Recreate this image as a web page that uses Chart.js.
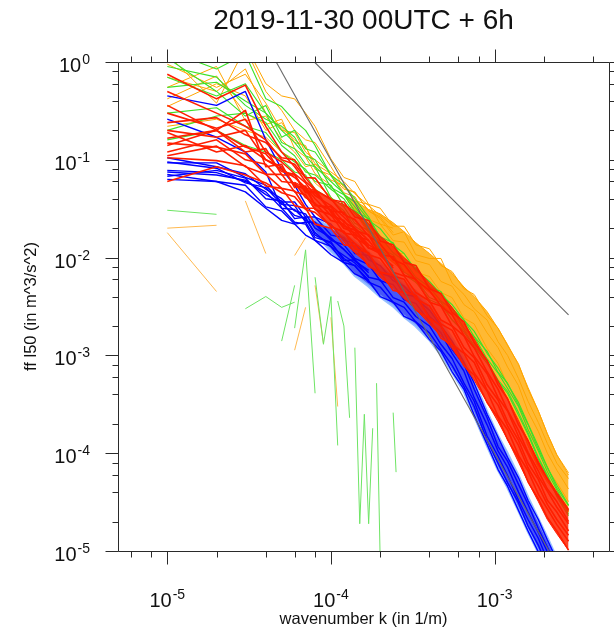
<!DOCTYPE html>
<html>
<head>
<meta charset="utf-8">
<title>ff l50 spectra</title>
<script src="https://cdn.jsdelivr.net/npm/chart.js@4.4.1/dist/chart.umd.min.js"></script>
<style>
  html, body { margin: 0; padding: 0; background: #ffffff; }
  canvas { display: block; }
</style>
</head>
<body>
<canvas id="spectra" width="614" height="630"></canvas>
<script>
// Wavenumbers k (1/m) at which the spectra are sampled
const wavenumber = [1e-5, 2e-5, 3e-5, 4e-5, 5e-5, 6e-5, 7e-5, 8e-5, 1e-4, 1.2e-4, 1.4e-4, 1.7e-4, 2e-4, 2.4e-4, 2.8e-4,
  3.3e-4, 4e-4, 4.7e-4, 5.5e-4, 6.5e-4, 7.5e-4, 9e-4, 1.05e-3, 1.2e-3, 1.4e-3, 1.6e-3, 1.85e-3, 2.1e-3, 2.4e-3, 2.83e-3];

// Blue members
const blue1 = [9.3e-2, 9.3e-2, 6.6e-2, 5.5e-2, 3.7e-2, 3.7e-2, 2.6e-2, 2.6e-2, 1.7e-2, 1.6e-2, 1.1e-2, 1.05e-2, 6.9e-3, 6.3e-3, 4.2e-3, 4.0e-3, 2.5e-3, 2.0e-3, 1.15e-3, 8.1e-4, 4.5e-4, 2.3e-4, 1.17e-4, 8.3e-5, 4.8e-5, 3.0e-5, 1.7e-5, 1.1e-5, 6.9e-6, 4.1e-6];
const blue2 = [7.1e-2, 6.0e-2, 5.5e-2, 3.3e-2, 3.0e-2, 2.2e-2, 2.3e-2, 1.6e-2, 1.45e-2, 9.3e-3, 9.5e-3, 6.3e-3, 5.9e-3, 3.9e-3, 3.5e-3, 2.5e-3, 2.0e-3, 1.3e-3, 9.3e-4, 5.2e-4, 3.4e-4, 1.5e-4, 9.3e-5, 5.9e-5, 3.3e-5, 2.1e-5, 1.35e-5, 8.1e-6, 5.0e-6, 3.0e-6];
const blue3 = [0.45, 0.36, 0.50, 0.16, 0.08, 0.055, 3.5e-2, 2.6e-2, 2.2e-2, 1.5e-2, 1.4e-2, 9.5e-3, 8.3e-3, 5.8e-3, 5.1e-3, 3.8e-3, 2.9e-3, 2.0e-3, 1.4e-3, 8.5e-4, 5.2e-4, 2.5e-4, 1.45e-4, 9.1e-5, 5.6e-5, 3.3e-5, 2.1e-5, 1.3e-5, 8.1e-6, 4.7e-6];
const blue4 = [0.26, 0.17, 0.12, 0.075, 3.2e-2, 2.3e-2, 2.2e-2, 1.5e-2, 1.3e-2, 8.9e-3, 8.3e-3, 5.6e-3, 5.0e-3, 3.5e-3, 3.1e-3, 2.2e-3, 1.7e-3, 1.15e-3, 7.9e-4, 4.8e-4, 3.0e-4, 1.35e-4, 7.9e-5, 5.0e-5, 3.1e-5, 1.8e-5, 1.15e-5, 6.9e-6, 4.5e-6, 2.6e-6];
const blue5 = [0.078, 0.074, 0.060, 0.047, 0.032, 0.031, 0.024, 0.022, 0.015, 0.0135, 0.0098, 0.0085, 0.0058, 0.0053, 0.0037, 0.0034, 0.0022, 0.0017, 1.05e-3, 6.9e-4, 3.7e-4, 1.95e-4, 1.05e-4, 7.2e-5, 4.0e-5, 2.5e-5, 1.55e-5, 9.8e-6, 6.0e-6, 3.5e-6];
const blue6 = [0.063, 0.060, 0.047, 0.032, 0.024, 0.022, 0.017, 0.015, 0.0107, 0.0089, 0.0068, 0.0058, 0.0040, 0.0035, 0.0025, 0.0022, 1.45e-3, 1.1e-3, 6.8e-4, 4.5e-4, 2.45e-4, 1.23e-4, 6.8e-5, 4.6e-5, 2.6e-5, 1.6e-5, 9.8e-6, 6.3e-6, 3.8e-6, 2.2e-6];
const blueLow1 = [0.105, 0.085, 0.072, 0.05, 0.04, 0.03, 0.028, 0.02, 0.016, 0.012, 0.0095, 0.007];
const blueLow2 = [0.075, 0.07, 0.062, 0.044, 0.036, 0.027, 0.025, 0.018, 0.013, 0.0105, 0.0088, 0.0064];
const blueLow3 = [0.095, 0.082, 0.058, 0.052, 0.035, 0.034, 0.023, 0.023, 0.0155, 0.0122, 0.0092, 0.0074];
const blueLow4 = [0.068, 0.078, 0.065, 0.04, 0.038, 0.025, 0.026, 0.017, 0.014, 0.0098, 0.0082, 0.0059];
const blueUpper = [0.025, 0.0245, 0.0204, 1.74e-2, 1.45e-2, 1.12e-2, 8.7e-3, 6.9e-3, 5.5e-3, 4.5e-3, 3.2e-3, 2.2e-3, 1.48e-3, 9.3e-4, 5.4e-4, 2.6e-4, 1.48e-4, 9.8e-5, 5.8e-5, 3.5e-5, 2.1e-5, 1.35e-5, 8.3e-6, 4.9e-6];
const blueLower = [0.025, 0.0178, 0.0117, 8.9e-3, 6.6e-3, 5.1e-3, 4.0e-3, 3.2e-3, 2.5e-3, 2.0e-3, 1.45e-3, 1.02e-3, 6.8e-4, 4.3e-4, 2.45e-4, 1.2e-4, 6.8e-5, 4.5e-5, 2.6e-5, 1.6e-5, 9.8e-6, 6.2e-6, 3.8e-6, 2.2e-6];

// Red members
const red1 = [0.24, 0.27, 0.18, 0.15, 0.105, 0.10, 0.066, 0.065, 0.039, 0.037, 0.026, 0.024, 0.0148, 0.0135, 0.0089, 0.0083, 0.0048, 0.0043, 0.00275, 0.0022, 0.00135, 8.9e-4, 5.0e-4, 3.6e-4, 1.95e-4, 1.35e-4, 7.8e-5, 5.5e-5, 3.8e-5, 2.6e-5];
const red2 = [0.105, 0.098, 0.087, 0.054, 0.051, 0.034, 0.032, 0.022, 0.020, 0.0135, 0.0132, 0.0081, 0.0071, 0.0046, 0.0044, 0.0029, 0.0024, 0.0015, 0.0013, 7.8e-4, 6.3e-4, 3.3e-4, 2.3e-4, 1.38e-4, 8.9e-5, 5.1e-5, 3.4e-5, 2.2e-5, 1.6e-5, 1.02e-5];
const red3 = [0.166, 0.20, 0.135, 0.115, 0.076, 0.071, 0.047, 0.048, 0.030, 0.029, 0.019, 0.017, 0.0107, 0.0102, 0.0066, 0.0060, 0.0035, 0.0032, 0.0020, 0.00158, 9.8e-4, 6.5e-4, 3.7e-4, 2.7e-4, 1.48e-4, 9.8e-5, 5.8e-5, 4.1e-5, 2.8e-5, 1.9e-5];
const red4 = [0.148, 0.135, 0.115, 0.071, 0.071, 0.047, 0.044, 0.031, 0.0275, 0.0178, 0.017, 0.0107, 0.0098, 0.0065, 0.0060, 0.0038, 0.0032, 0.0021, 0.0018, 0.00107, 8.5e-4, 4.4e-4, 3.1e-4, 1.9e-4, 1.2e-4, 7.1e-5, 4.6e-5, 3.0e-5, 2.1e-5, 1.45e-5];
const red5 = [0.75, 0.42, 0.58, 0.22, 0.12, 0.085, 0.06, 0.049, 0.040, 0.0275, 0.0245, 0.0166, 0.0138, 0.0095, 0.0085, 0.0059, 0.0046, 0.0032, 0.0026, 0.0016, 0.0012, 6.8e-4, 4.5e-4, 2.75e-4, 1.7e-4, 1.02e-4, 6.6e-5, 4.3e-5, 3.2e-5, 2.0e-5];
const red6 = [0.50, 0.30, 0.22, 0.16, 0.10, 0.09, 0.065, 0.05, 0.029, 0.020, 0.0195, 0.0126, 0.011, 0.0071, 0.0065, 0.0044, 0.0036, 0.0023, 0.0020, 0.0012, 9.5e-4, 5.0e-4, 3.5e-4, 2.1e-4, 1.35e-4, 7.9e-5, 5.4e-5, 3.3e-5, 2.5e-5, 1.6e-5];
const red7 = [0.11, 0.138, 0.085, 0.071, 0.051, 0.048, 0.032, 0.032, 0.0204, 0.0186, 0.0123, 0.0112, 0.0071, 0.0066, 0.0045, 0.0041, 0.0024, 0.0020, 0.0013, 0.00105, 6.6e-4, 4.3e-4, 2.4e-4, 1.74e-4, 9.5e-5, 6.6e-5, 3.8e-5, 2.7e-5, 1.86e-5, 1.26e-5];
const redLow1 = [0.30, 0.21, 0.26, 0.12, 0.095, 0.072, 0.058, 0.043, 0.034, 0.026, 0.020, 0.015];
const redLow2 = [0.12, 0.16, 0.10, 0.09, 0.06, 0.058, 0.041, 0.036, 0.024, 0.022, 0.016, 0.013];
const redLow3 = [0.19, 0.12, 0.14, 0.10, 0.085, 0.055, 0.050, 0.035, 0.031, 0.020, 0.018, 0.0125];
const redLow4 = [0.06, 0.085, 0.07, 0.058, 0.046, 0.042, 0.031, 0.029, 0.021, 0.018, 0.014, 0.011];
const redLow5 = [0.2, 0.17, 0.2, 0.1, 0.08, 0.066, 0.052, 0.04, 0.027, 0.024, 0.017, 0.015, 0.0105, 0.0082];
const redLow6 = [0.14, 0.2, 0.12, 0.13, 0.07, 0.07, 0.046, 0.046, 0.03, 0.021, 0.019, 0.0135, 0.0115, 0.0078];
const redLow7 = [0.36, 0.2, 0.32, 0.085, 0.09, 0.052, 0.054, 0.034, 0.033, 0.023, 0.02, 0.0125, 0.012, 0.0072];
const redUpper = [0.059, 0.052, 0.049, 0.039, 0.035, 0.0295, 0.0224, 0.0166, 0.0129, 0.010, 0.0078, 0.0055, 0.0042, 0.0031, 0.0021, 0.00148, 8.7e-4, 5.5e-4, 3.6e-4, 2.14e-4, 1.35e-4, 8.3e-5, 5.6e-5, 4.0e-5, 2.7e-5];
const redLower = [0.059, 0.042, 0.031, 0.0214, 0.0145, 0.0112, 0.0085, 0.0063, 0.0049, 0.0038, 0.00295, 0.0021, 0.00158, 0.00117, 7.9e-4, 5.6e-4, 3.3e-4, 2.1e-4, 1.38e-4, 8.1e-5, 5.1e-5, 3.2e-5, 2.1e-5, 1.5e-5, 1.02e-5];

// Green members
const green1 = [1.3, 0.85, 1.2, 0.42, 0.35, 0.25, 0.2, 0.14, 0.069, 0.044, 0.037, 0.024, 0.0198, 0.0135, 0.011, 0.0074, 0.0057, 0.0042, 0.0033, 0.0023, 0.00177, 0.00105, 7.4e-4, 5.1e-4, 3.3e-4, 2.0e-4, 1.18e-4, 7.2e-5, 4.7e-5, 2.95e-5];
const green2 = [0.55, 0.62, 0.40, 0.30, 0.15, 0.13, 0.09, 0.085, 0.041, 0.033, 0.0224, 0.0188, 0.0123, 0.0107, 0.0071, 0.006, 0.0039, 0.0035, 0.0023, 0.0018, 0.00127, 8.7e-4, 5.6e-4, 4.3e-4, 2.6e-4, 1.62e-4, 9.1e-5, 6.0e-5, 3.7e-5, 2.4e-5];
const green3 = [0.30, 0.34, 0.22, 0.19, 0.12, 0.095, 0.08, 0.06, 0.055, 0.034, 0.030, 0.0188, 0.0163, 0.0112, 0.0093, 0.0063, 0.005, 0.0036, 0.003, 0.0019, 0.00156, 9.2e-4, 6.6e-4, 4.6e-4, 3.0e-4, 1.75e-4, 1.05e-4, 6.5e-5, 4.2e-5, 2.6e-5];
const green4 = [0.16, 0.20, 0.14, 0.12, 0.10, 0.075, 0.07, 0.05, 0.039, 0.030, 0.0209, 0.0169, 0.0118, 0.01, 0.0067, 0.0056, 0.0037, 0.0033, 0.0023, 0.00173, 0.00123, 8.3e-4, 5.4e-4, 4.1e-4, 2.45e-4, 1.55e-4, 8.7e-5, 5.8e-5, 3.6e-5, 2.3e-5];
const green5 = [0.9, 0.7, 0.36, 0.26, 0.22, 0.17, 0.11, 0.10, 0.052, 0.044, 0.030, 0.025, 0.0163, 0.0142, 0.0091, 0.0079, 0.005, 0.0045, 0.003, 0.0023, 0.00156, 1.1e-3, 6.7e-4, 5.2e-4, 3.1e-4, 1.97e-4, 1.1e-4, 7.2e-5, 4.4e-5, 2.9e-5];
const greenLow1 = [0.7, 0.45, 0.6, 0.3, 0.2, 0.15, 0.11, 0.085, 0.06, 0.045, 0.033, 0.022, 0.015];
const greenLow2 = [0.2, 0.28, 0.3, 0.24, 0.14, 0.11, 0.075, 0.07, 0.05, 0.04, 0.028, 0.02, 0.014];
const greenLow3 = [1.1, 0.5, 0.28, 0.36, 0.17, 0.2, 0.13, 0.12, 0.07, 0.055, 0.04, 0.026, 0.016];

// Orange members
const orange1 = [1.6, 1.1, 1.5, 0.6, 0.45, 0.42, 0.3, 0.22, 0.102, 0.066, 0.060, 0.035, 0.032, 0.021, 0.0209, 0.0135, 0.0123, 0.0083, 0.0072, 0.0048, 0.0042, 0.00255, 0.0019, 0.00126, 8.2e-4, 4.5e-4, 2.7e-4, 1.58e-4, 9.6e-5, 6.3e-5];
const orange2 = [0.7, 0.5, 0.85, 0.3, 0.21, 0.16, 0.135, 0.091, 0.072, 0.046, 0.042, 0.0246, 0.022, 0.0149, 0.0144, 0.0093, 0.0085, 0.0057, 0.0051, 0.0033, 0.0028, 0.0017, 0.0012, 7.6e-4, 4.9e-4, 2.66e-4, 1.67e-4, 1.0e-4, 6.7e-5, 4.3e-5];
const orange3 = [0.22, 0.26, 0.2, 0.17, 0.12, 0.10, 0.079, 0.058, 0.042, 0.028, 0.024, 0.0145, 0.0126, 0.0089, 0.0081, 0.0055, 0.0049, 0.0035, 0.0030, 0.0019, 0.00156, 8.9e-4, 5.6e-4, 3.6e-4, 2.2e-4, 1.2e-4, 7.4e-5, 5.1e-5, 3.8e-5, 2.5e-5];
const orange4 = [0.42, 0.72, 0.3, 0.23, 0.26, 0.13, 0.107, 0.072, 0.055, 0.034, 0.032, 0.0188, 0.0166, 0.0112, 0.011, 0.0071, 0.0064, 0.0044, 0.0039, 0.0024, 0.0021, 0.00118, 8.3e-4, 5.0e-4, 3.3e-4, 1.75e-4, 1.12e-4, 6.9e-5, 5.0e-5, 3.2e-5];
const orange5 = [1.2, 0.38, 1.4, 0.5, 0.32, 0.2, 0.16, 0.15, 0.085, 0.052, 0.046, 0.030, 0.025, 0.017, 0.0184, 0.0107, 0.0098, 0.0098, 0.0055, 0.0042, 0.003, 0.0023, 0.00138, 1.0e-3, 5.8e-4, 3.4e-4, 2.06e-4, 1.26e-4, 7.9e-5, 5.5e-5];
const orangeLow1 = [0.95, 0.55, 0.75, 0.38, 0.2, 0.19, 0.12, 0.1, 0.075, 0.06, 0.045, 0.034, 0.027, 0.021];
const orangeLow2 = [0.35, 0.6, 0.45, 0.2, 0.24, 0.15, 0.14, 0.08, 0.07, 0.05, 0.047, 0.03, 0.026, 0.018];
const orangeLow3 = [0.55, 0.9, 0.25, 0.28, 0.16, 0.12, 0.085, 0.09, 0.062, 0.055, 0.038, 0.035, 0.022, 0.02];
const orangeUpper = [0.044, 0.038, 0.031, 0.028, 0.0227, 0.0184, 0.0142, 0.011, 0.0087, 0.0069, 0.005, 0.004, 0.0028, 0.00188, 0.00129, 8.0e-4, 4.7e-4, 2.7e-4, 1.58e-4, 9.6e-5, 6.0e-5];
const orangeLower = [0.044, 0.029, 0.0177, 0.0112, 0.0089, 0.0072, 0.0056, 0.0044, 0.0035, 0.0026, 0.00184, 0.00138, 8.7e-4, 5.4e-4, 3.6e-4, 2.2e-4, 1.2e-4, 7.1e-5, 5.1e-5, 3.8e-5, 2.5e-5];

// Short broken pieces (spectra with non-positive values in between)
const greenPieceK = [[1e-5, 2e-5], [3e-5, 4e-5, 5e-5, 6e-5], [5e-5, 6e-5], [6e-5, 7e-5, 8e-5], [8e-5, 9e-5, 1e-4, 1.1e-4],
  [1.1e-4, 1.2e-4, 1.3e-4], [1.4e-4, 1.5e-4, 1.6e-4, 1.7e-4, 1.8e-4], [1.9e-4, 2e-4], [2.4e-4, 2.5e-4]];
const greenPieceE = [[0.0305, 0.0277], [3.0e-3, 4.0e-3, 3.1e-3, 3.5e-3], [1.4e-3, 5.2e-3], [1.9e-3, 1.2e-2, 4.1e-4], [6.3e-3, 1.3e-3, 4.0e-3, 1.2e-4],
  [3.6e-3, 2.0e-3, 2.3e-4], [1.2e-3, 1.9e-5, 2.5e-4, 1.9e-5, 1.8e-4], [5.2e-4, 8.0e-6], [2.6e-4, 6.4e-5]];
const orangePieceK = [[1e-5, 2e-5], [1e-5, 2e-5], [3e-5, 4e-5], [6e-5, 7e-5], [6e-5, 7e-5], [8e-5, 9e-5], [1e-4, 1.1e-4]];
const orangePieceE = [[0.020, 0.0214], [0.018, 0.0045], [0.038, 0.011], [0.0105, 0.016], [1.13e-3, 3.1e-3], [5.2e-3, 1.33e-3], [2.45e-3, 3.0e-4]];

// Reference slopes k^-3 and k^-5/3
const slope3K = [4.63e-5, 2.15e-3];
const slope3E = [1, 1e-5];
const slope53K = [7.93e-5, 2.83e-3];
const slope53E = [1, 2.6e-3];

// Axis ticks
const xMajorTicks = [1e-5, 1e-4, 1e-3];
const xTickExponents = ['-5', '-4', '-3'];
const xMinorTicks = [6e-6, 8e-6, 2e-5, 4e-5, 6e-5, 8e-5, 2e-4, 4e-4, 6e-4, 8e-4, 2e-3, 4e-3];
const yMajorTicks = [1, 1e-1, 1e-2, 1e-3, 1e-4, 1e-5];
const yTickExponents = ['0', '-1', '-2', '-3', '-4', '-5'];
const yMinorTicks = [0.8, 0.6, 0.4, 0.2, 0.08, 0.06, 0.04, 0.02, 8e-3, 6e-3, 4e-3, 2e-3,
  8e-4, 6e-4, 4e-4, 2e-4, 8e-5, 6e-5, 4e-5, 2e-5];

const titleText = '2019-11-30 00UTC + 6h';
const xTitle = 'wavenumber k (in 1/m)';
const yTitle = 'ff l50 (in m^3/s^2)';

// ---------------------------------------------------------------
const FONT = '"Liberation Sans", Arial, Helvetica, sans-serif';
const RED = 'rgb(255,30,0)';
const BLUE = 'rgb(0,0,255)';
const GREEN = 'rgb(60,225,40)';
const ORANGE = 'rgb(255,165,0)';

const datasets = [];
function addLine(ks, vs, color, width, order, extra) {
  datasets.push(Object.assign({
    data: vs.map((v, i) => ({ x: ks[i], y: v })),
    borderColor: color,
    borderWidth: width,
    pointRadius: 0,
    fill: false,
    spanGaps: false,
    order: order
  }, extra || {}));
}
function addBand(ks, upper, lower, edgeColor, edgeWidth, fillColor, order) {
  addLine(ks, upper, edgeColor, edgeWidth, order);
  addLine(ks, lower, edgeColor, edgeWidth, order, { fill: '-1', backgroundColor: fillColor });
}

// reference slopes on top
addLine(slope3K, slope3E, 'rgb(105,105,105)', 1.1, 0);
addLine(slope53K, slope53E, 'rgb(105,105,105)', 1.1, 0);

// red
[red1, red2, red3, red4, red5, red6, red7].forEach(v => addLine(wavenumber, v, RED, 1.6, 1));
[redLow1, redLow2, redLow3, redLow4, redLow5, redLow6, redLow7].forEach(v => addLine(wavenumber, v, RED, 1.6, 1));
addBand(wavenumber.slice(5), redUpper, redLower, RED, 1, 'rgba(255,35,0,0.85)', 2);

// blue
[blue1, blue2, blue3, blue4, blue5, blue6].forEach(v => addLine(wavenumber, v, BLUE, 1.4, 3));
[blueLow1, blueLow2, blueLow3, blueLow4].forEach(v => addLine(wavenumber, v, BLUE, 1.4, 3));
addBand(wavenumber.slice(6), blueUpper, blueLower, 'rgba(140,185,255,0.9)', 3, 'rgba(25,45,245,0.8)', 4);

// green
[green1, green2, green3, green4, green5].forEach(v => addLine(wavenumber, v, GREEN, 1.1, 5));
[greenLow1, greenLow2, greenLow3].forEach(v => addLine(wavenumber, v, GREEN, 1.1, 5));

// orange
[orange1, orange2, orange3, orange4, orange5].forEach(v => addLine(wavenumber, v, ORANGE, 1.0, 6));
[orangeLow1, orangeLow2, orangeLow3].forEach(v => addLine(wavenumber, v, ORANGE, 1.0, 6));
addBand(wavenumber.slice(9), orangeUpper, orangeLower, ORANGE, 1, 'rgba(255,168,0,0.8)', 7);

// broken pieces
greenPieceK.forEach((k, i) => addLine(k, greenPieceE[i], 'rgb(110,228,100)', 1, 8));
orangePieceK.forEach((k, i) => addLine(k, orangePieceE[i], 'rgb(255,185,80)', 1, 8));

// Frame, outward tick marks and 10^n labels
function drawPower(ctx, exp, x, baseY, align) {
  ctx.font = '20px ' + FONT;
  const wBase = ctx.measureText('10').width;
  ctx.font = '14px ' + FONT;
  const wExp = ctx.measureText(exp).width;
  const total = wBase + 1 + wExp;
  const x0 = align === 'right' ? x - total : x - total / 2;
  ctx.textAlign = 'left';
  ctx.textBaseline = 'alphabetic';
  ctx.font = '20px ' + FONT;
  ctx.fillText('10', x0, baseY);
  ctx.font = '14px ' + FONT;
  ctx.fillText(exp, x0 + wBase + 1, baseY - 8);
}

const axesPlugin = {
  id: 'frameAndLabels',
  afterDraw(chart) {
    const { ctx, chartArea: a, scales } = chart;
    const xs = scales.x, ys = scales.y;
    ctx.save();
    ctx.strokeStyle = '#2a2a2a';
    ctx.lineWidth = 1;
    ctx.beginPath();
    ctx.rect(a.left + 0.5, a.top + 0.5, a.right - a.left, a.bottom - a.top);
    ctx.stroke();

    const tickX = (v, len) => {
      const p = Math.round(xs.getPixelForValue(v)) + 0.5;
      ctx.moveTo(p, a.bottom + 0.5); ctx.lineTo(p, a.bottom + 0.5 + len);
      ctx.moveTo(p, a.top + 0.5); ctx.lineTo(p, a.top + 0.5 - len);
    };
    const tickY = (v, len) => {
      const p = Math.round(ys.getPixelForValue(v)) + 0.5;
      ctx.moveTo(a.left + 0.5, p); ctx.lineTo(a.left + 0.5 - len, p);
      ctx.moveTo(a.right + 0.5, p); ctx.lineTo(a.right + 0.5 + len, p);
    };
    ctx.beginPath();
    xMajorTicks.forEach(v => tickX(v, 13));
    xMinorTicks.forEach(v => tickX(v, 6));
    yMajorTicks.forEach(v => tickY(v, 13));
    yMinorTicks.forEach(v => tickY(v, 6));
    ctx.stroke();

    ctx.fillStyle = '#111';
    xMajorTicks.forEach((v, i) => drawPower(ctx, xTickExponents[i], xs.getPixelForValue(v), a.bottom + 56, 'center'));
    yMajorTicks.forEach((v, i) => drawPower(ctx, yTickExponents[i], a.left - 28, ys.getPixelForValue(v) + 10, 'right'));

    const cx = (a.left + a.right) / 2;
    const cy = (a.top + a.bottom) / 2;
    ctx.textAlign = 'center';
    ctx.textBaseline = 'alphabetic';
    ctx.font = '28px ' + FONT;
    ctx.fillText(titleText, cx, 29);
    ctx.font = '16.5px ' + FONT;
    ctx.fillText(xTitle, cx, 624);
    ctx.save();
    ctx.translate(36, cy);
    ctx.rotate(-Math.PI / 2);
    ctx.fillText(yTitle, 0, 0);
    ctx.restore();
    ctx.restore();
  }
};

new Chart(document.getElementById('spectra'), {
  type: 'line',
  data: { datasets: datasets },
  options: {
    responsive: false,
    animation: false,
    events: [],
    layout: { padding: { left: 118, top: 62, right: 5, bottom: 79 } },
    elements: { line: { tension: 0, borderJoinStyle: 'round' }, point: { radius: 0 } },
    scales: {
      x: { type: 'logarithmic', min: 5e-6, max: 5e-3, display: false },
      y: { type: 'logarithmic', min: 1e-5, max: 1, display: false }
    },
    plugins: {
      legend: { display: false },
      tooltip: { enabled: false },
      title: { display: false }
    }
  },
  plugins: [axesPlugin]
});
</script>
</body>
</html>
